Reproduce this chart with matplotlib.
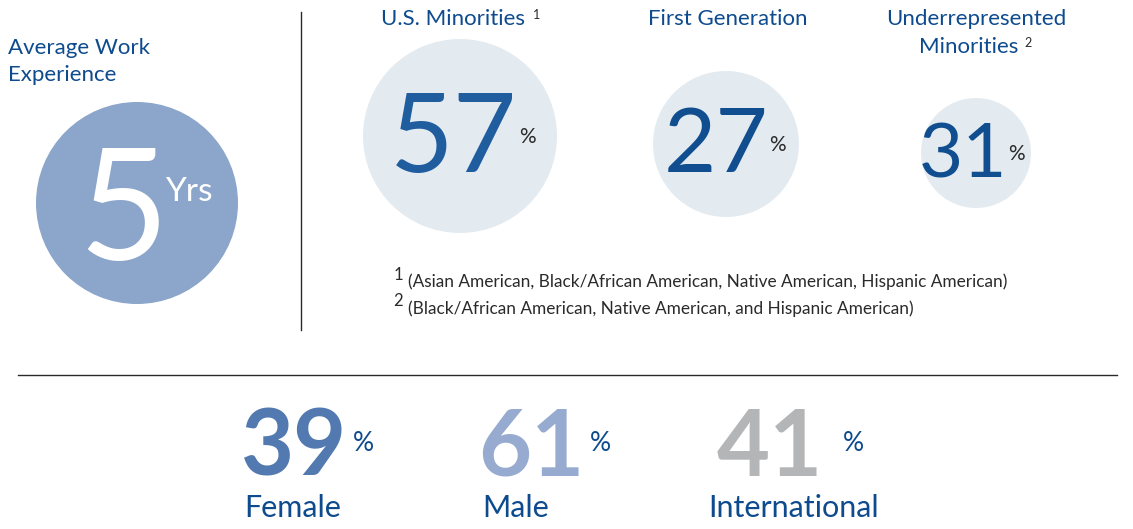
import matplotlib
matplotlib.use("Agg")
import matplotlib.pyplot as plt
from matplotlib.patches import Circle

plt.rcParams['font.family'] = ['Lato', 'DejaVu Sans']

# data
work_years = "5"
work_unit = "Yrs"
work_title = ["Average Work", "Experience"]

div_titles = [["U.S. Minorities"], ["First Generation"], ["Underrepresented", "Minorities"]]
div_marks = ["1", "", "2"]
div_values = [57, 27, 31]

footnotes = ["(Asian American, Black/African American, Native American, Hispanic American)",
             "(Black/African American, Native American, and Hispanic American)"]

mix_labels = ["Female", "Male", "International"]
mix_values = [39, 61, 41]
mix_colors = ["#5279b0", "#97abd1", "#b4b5b7"]

BLUE = "#0e4b8e"
DARK = "#2a2a2a"

fig = plt.figure(figsize=(11.33, 5.29), dpi=100)
ax = fig.add_axes([0, 0, 1, 1])
ax.set_xlim(0, 1133)
ax.set_ylim(529, 0)
ax.set_aspect('equal')
ax.axis('off')

# left block
for i, line in enumerate(work_title):
	ax.text(8, 54 + i * 27, line, color=BLUE, fontsize=16, ha='left', va='baseline')
ax.add_patch(Circle((137, 203), 101, color="#8ba6ca", lw=0))
ax.text(123, 260, work_years, color='white', fontsize=112, ha='center', va='baseline')
ax.text(165, 201, work_unit, color='white', fontsize=24, ha='left', va='baseline')

ax.plot([301, 301], [12, 330], color=DARK, lw=1)

# diversity circles
centers = [(460, 136), (726, 144), (976, 153)]
radii = [97, 73, 55]
num_sizes = [79, 65, 55]
num_base = [172, 172, 177]
num_x = [454, 716, 963]
pct_x = [527, 777, 1016]
title_x = [453, 728, 976]
for k in range(3):
	cx, cy = centers[k]
	ax.add_patch(Circle((cx, cy), radii[k], color="#e3ebf1", lw=0))
	ax.text(num_x[k], num_base[k], str(div_values[k]), color="#1f5d9f" if k == 0 else "#104e90",
			fontsize=num_sizes[k], ha='center', va='baseline')
	ax.text(pct_x[k], cy + 7, "%", color=DARK, fontsize=15, ha='center', va='baseline')
	for j, line in enumerate(div_titles[k]):
		ax.text(title_x[k] if j == 0 else 969, 25 + j * 28, line, color=BLUE, fontsize=16, ha='center', va='baseline')
	if div_marks[k]:
		mx = [537, 0, 1028][k]
		my = [19, 0, 47][k]
		ax.text(mx, my, div_marks[k], color=DARK, fontsize=9, ha='center', va='baseline')

# footnotes
for i, note in enumerate(footnotes):
	ax.text(398, 280 + i * 26, str(i + 1), color=DARK, fontsize=12, ha='center', va='baseline')
	ax.text(408, 287 + i * 27, note, color=DARK, fontsize=12.4, ha='left', va='baseline')

ax.plot([18, 1117], [375, 375], color=DARK, lw=1)

# bottom stats
big_x = [294, 531, 770]
pct_xs = [363, 600, 853]
lab_x = [293, 516, 794]
for k in range(3):
	ax.text(big_x[k], 476, str(mix_values[k]), color=mix_colors[k], fontsize=66, fontweight='bold', ha='center', va='baseline')
	ax.text(pct_xs[k], 451, "%", color=BLUE, fontsize=19, ha='center', va='baseline')
	ax.text(lab_x[k], 517, mix_labels[k], color=BLUE, fontsize=22, ha='center', va='baseline')

fig.savefig("out.png", dpi=100)
